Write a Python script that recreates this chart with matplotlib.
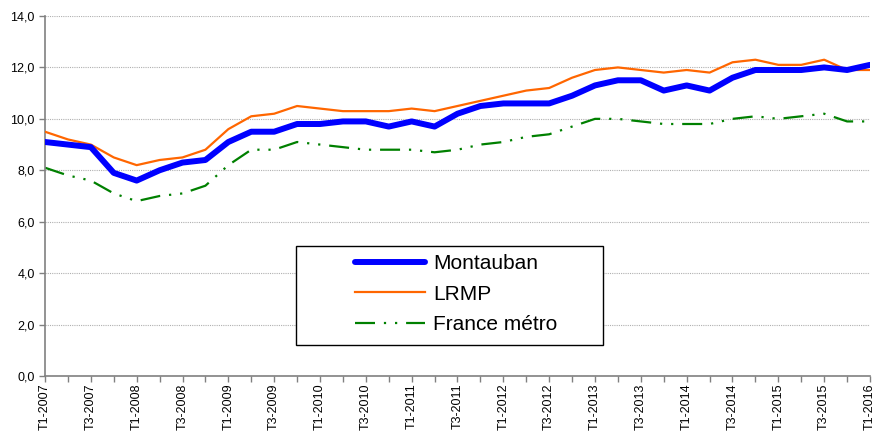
import matplotlib
matplotlib.use("Agg")
import matplotlib.pyplot as plt
from matplotlib.ticker import MultipleLocator, FixedLocator, FuncFormatter
from matplotlib.patches import Rectangle

plt.rcParams['font.family'] = ['Liberation Sans', 'DejaVu Sans']

quarters = [f"T{q}-{y}" for y in range(2007, 2016) for q in (1, 2, 3, 4)] + ["T1-2016"]

montauban = [9.1, 9.0, 8.9, 7.9, 7.6, 8.0, 8.3, 8.4, 9.1, 9.5, 9.5, 9.8, 9.8, 9.9, 9.9, 9.7,
             9.9, 9.7, 10.2, 10.5, 10.6, 10.6, 10.6, 10.9, 11.3, 11.5, 11.5, 11.1, 11.3, 11.1,
             11.6, 11.9, 11.9, 11.9, 12.0, 11.9, 12.1]
lrmp = [9.5, 9.2, 9.0, 8.5, 8.2, 8.4, 8.5, 8.8, 9.6, 10.1, 10.2, 10.5, 10.4, 10.3, 10.3, 10.3,
        10.4, 10.3, 10.5, 10.7, 10.9, 11.1, 11.2, 11.6, 11.9, 12.0, 11.9, 11.8, 11.9, 11.8,
        12.2, 12.3, 12.1, 12.1, 12.3, 11.9, 11.9]
france = [8.1, 7.8, 7.6, 7.1, 6.8, 7.0, 7.1, 7.4, 8.2, 8.8, 8.8, 9.1, 9.0, 8.9, 8.8, 8.8,
          8.8, 8.7, 8.8, 9.0, 9.1, 9.3, 9.4, 9.7, 10.0, 10.0, 9.9, 9.8, 9.8, 9.8,
          10.0, 10.1, 10.0, 10.1, 10.2, 9.9, 9.9]

fig = plt.figure(figsize=(8.77, 4.32), dpi=100)
ax = fig.add_axes([45/877, 1-376/432, 825/877, 360/432])

x = list(range(len(quarters)))
ax.plot(x, montauban, color='#0000FF', lw=4.3, label='Montauban', solid_capstyle='round', zorder=4)
ax.plot(x, lrmp, color='#FF6600', lw=1.6, label='LRMP', zorder=3)
ax.plot(x, france, color='#008000', lw=1.6, label='France métro', zorder=2,
        dashes=(9, 4, 1, 4, 1, 4))

ax.set_xlim(0, len(quarters) - 1)
ax.set_ylim(0, 14)
ax.yaxis.set_major_locator(MultipleLocator(2))
ax.yaxis.set_major_formatter(FuncFormatter(lambda v, p: f"{v:.1f}".replace('.', ',')))
ax.grid(axis='y', color='#b0b0b0', linestyle=(0, (1, 1)), lw=0.8)
ax.set_axisbelow(True)

ax.xaxis.set_major_locator(FixedLocator(x[::2]))
ax.xaxis.set_minor_locator(FixedLocator(x[1::2]))
ax.set_xticklabels(quarters[::2], rotation=90)

for s in ('top', 'right'):
    ax.spines[s].set_visible(False)
for s in ('left', 'bottom'):
    ax.spines[s].set_color('#808080')
    ax.spines[s].set_linewidth(1.2)
ax.tick_params(axis='both', which='both', direction='out', color='#808080', length=4, width=1,
               labelsize=9, labelcolor='black')
ax.tick_params(axis='x', which='major', pad=1.5)

# legend frame (axes coords)
ax.add_patch(Rectangle((0.3042, 0.0861), 0.3721, 0.2749, transform=ax.transAxes,
                       facecolor='white', edgecolor='black', lw=1.0, zorder=5))
leg = ax.legend(loc='upper left', bbox_to_anchor=(0.3758, 0.338),
                fontsize=15, frameon=False, handlelength=3.36,
                borderaxespad=0, handletextpad=0.38, labelspacing=0.55, borderpad=0)
leg.set_zorder(6)

fig.savefig('out.png', dpi=100)
